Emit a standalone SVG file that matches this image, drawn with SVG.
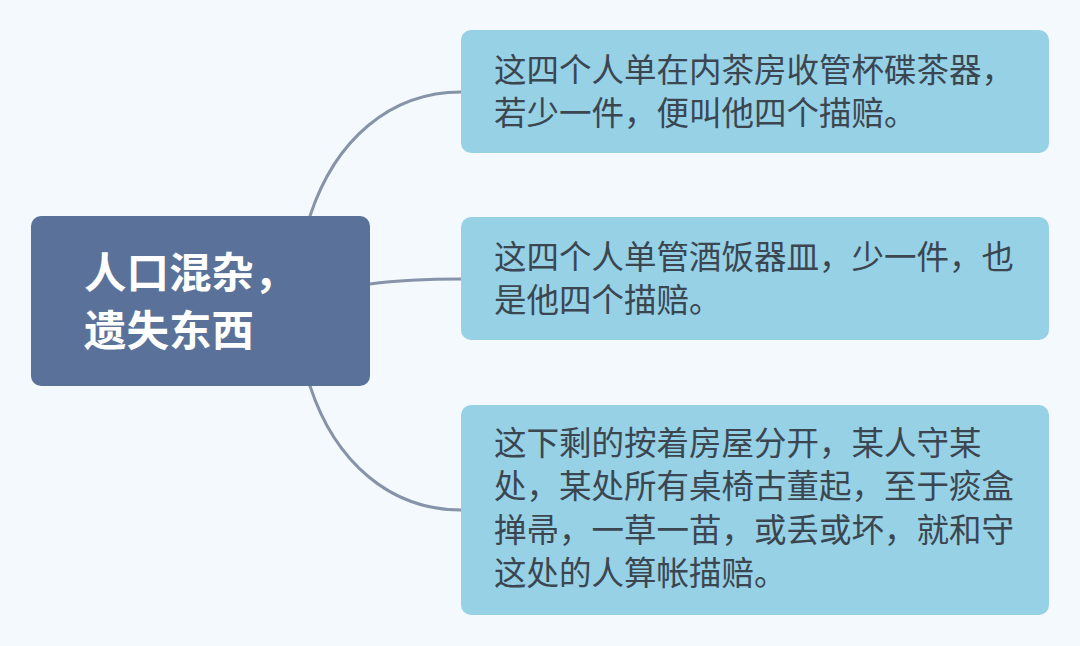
<svg xmlns="http://www.w3.org/2000/svg" width="1080" height="646" viewBox="0 0 1080 646">
<style>
.bg{fill:#f4f9fd}
.root{fill:#5a7299}
.leaf{fill:#96d1e6}
.conn{fill:none;stroke:#8693a8;stroke-width:3;stroke-linecap:round}
.rt{font-family:"Noto Sans CJK SC","Noto Sans",sans-serif;font-size:42.5px;font-weight:bold;fill:#ffffff}
.lt{font-family:"Noto Sans CJK SC","Noto Sans",sans-serif;font-size:32.5px;fill:#3b4650}
</style>
<rect class="bg" x="0" y="0" width="1080" height="646"/>
<g id="connectors">
<path class="conn" d="M310,216 C335,140 390,92 461,92"/>
<path class="conn" d="M370,284 C400,280 430,279 461,279"/>
<path class="conn" d="M310,386 C335,462 390,510 461,510"/>
</g>
<g id="root">
<rect class="root" x="31" y="216" width="339" height="170" rx="10"/>
<text class="rt" x="84" y="288">人口混杂，</text>
<text class="rt" x="84" y="346">遗失东西</text>
</g>
<g id="node1">
<rect class="leaf" x="461" y="30" width="588" height="123" rx="10"/>
<text class="lt" x="494" y="81.5">这四个人单在内茶房收管杯碟茶器，</text>
<text class="lt" x="494" y="125">若少一件，便叫他四个描赔。</text>
</g>
<g id="node2">
<rect class="leaf" x="461" y="217" width="588" height="123" rx="10"/>
<text class="lt" x="494" y="268.5">这四个人单管酒饭器皿，少一件，也</text>
<text class="lt" x="494" y="312">是他四个描赔。</text>
</g>
<g id="node3">
<rect class="leaf" x="461" y="405" width="588" height="210" rx="10"/>
<text class="lt" x="494" y="455">这下剩的按着房屋分开，某人守某</text>
<text class="lt" x="494" y="498">处，某处所有桌椅古董起，至于痰盒</text>
<text class="lt" x="494" y="541.5">掸帚，一草一苗，或丢或坏，就和守</text>
<text class="lt" x="494" y="585">这处的人算帐描赔。</text>
</g>
</svg>
